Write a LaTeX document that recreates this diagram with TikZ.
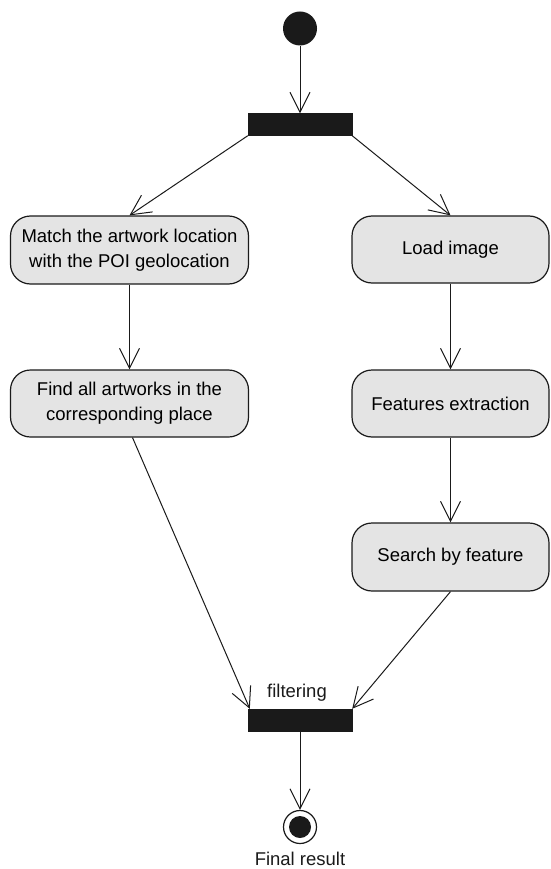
\documentclass[tikz,border=0pt]{standalone}
\usepackage{fontspec}
\setmainfont{Liberation Sans}
\usetikzlibrary{arrows.meta}
\definecolor{actfill}{HTML}{E4E4E4}
\definecolor{ink}{HTML}{1A1A1A}
\begin{document}
\begin{tikzpicture}[x=1pt,y=-1pt,
  action/.style={draw=ink,line width=1.2pt,fill=actfill,rounded corners=20pt,
    align=center,font=\fontsize{18.5}{25}\selectfont,inner sep=0pt},
  leftact/.style={action,minimum width=238pt},
  rightact/.style={action,minimum width=197pt},
  bar/.style={fill=ink,draw=ink,minimum width=104pt,minimum height=22pt,inner sep=0pt},
  flow/.style={draw=ink,line width=1pt,-{Straight Barb[length=20pt,width=20pt,line width=1pt]}},
  lbl/.style={font=\fontsize{18.5}{22}\selectfont,text=ink}]
\useasboundingbox (0,0) rectangle (550,869);
% initial and fork
\node[circle,fill=ink,minimum size=34pt,inner sep=0pt] (start) at (300,28.5) {};
\node[bar] (fork) at (300,124.5) {};
% left branch: geolocation lookup
\node[leftact,minimum height=68pt] (match) at (129.5,250) {Match the artwork location\\with the POI geolocation};
\node[leftact,minimum height=67pt] (find) at (129.5,403.5) {Find all artworks in the\\corresponding place};
% right branch: image search
\node[rightact,minimum height=67pt] (load) at (450.5,249.5) {Load image};
\node[rightact,minimum height=67pt] (feat) at (450.5,403.5) {Features extraction};
\node[rightact,minimum height=68pt] (search) at (450.5,557) {Search by feature};
% join and end
\node[bar] (join) at (300,720) {};
\node[lbl,anchor=base] (filt) at (297,697) {filtering};
\node[circle,draw=ink,line width=1.2pt,fill=white,minimum size=33pt,inner sep=0pt] (final) at (300,827) {};
\node[circle,fill=ink,minimum size=22pt,inner sep=0pt] (finaldot) at (final.center) {};
\node[lbl,anchor=base] (res) at (300,865) {Final result};
% control flows
\draw[flow] (start) -- (fork);
\draw[flow] (fork.south west) -- (match.north);
\draw[flow] (fork.south east) -- (load.north);
\draw[flow] (match) -- (find);
\draw[flow] (load) -- (feat);
\draw[flow] (feat) -- (search);
\draw[flow] ([xshift=3pt]find.south) -- ([xshift=2pt]join.north west);
\draw[flow] (search.south) -- (join.north east);
\draw[flow] (join) -- (final);
\end{tikzpicture}
\end{document}
